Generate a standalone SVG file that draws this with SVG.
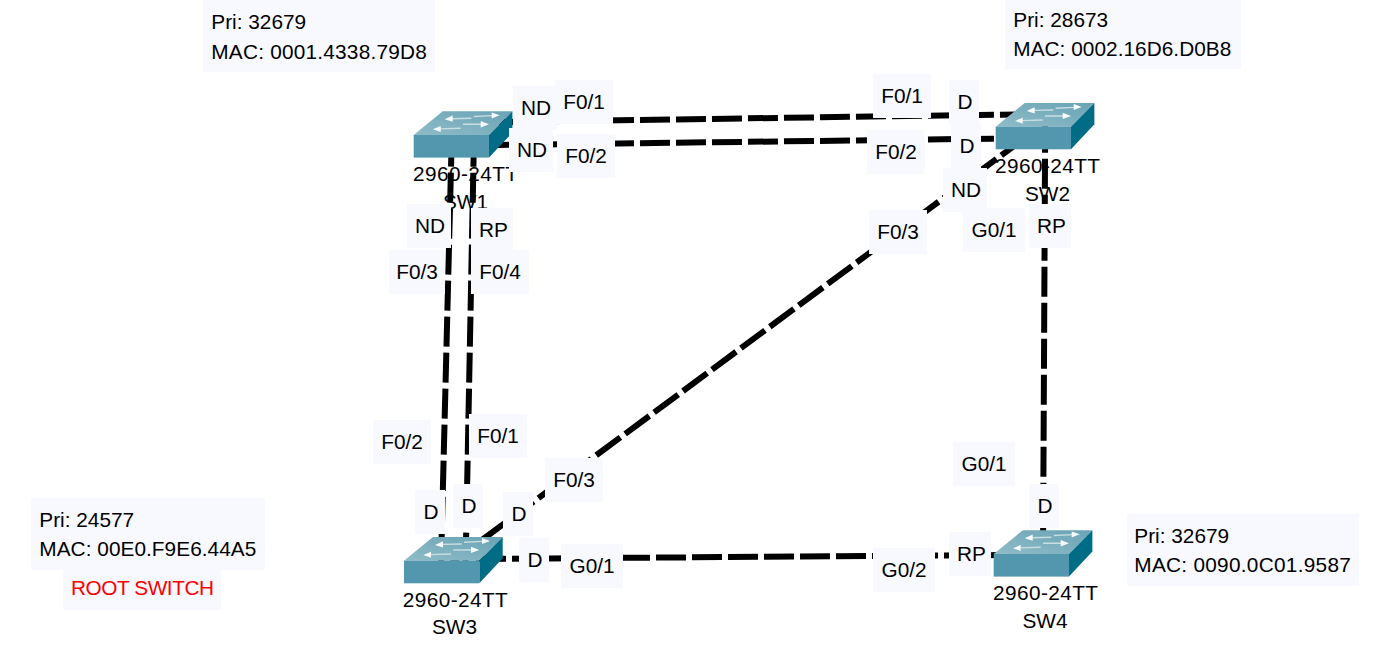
<svg xmlns="http://www.w3.org/2000/svg" width="1391" height="657" viewBox="0 0 1391 657">
<style>
text{font-family:"Liberation Sans",Arial,sans-serif;font-size:20.8px;fill:#000}
.l{text-anchor:middle}
.bg{fill:#f8f9ff}
.link{fill:none;stroke:#000;stroke-width:6;stroke-dasharray:30 6}
.root{fill:#ff0000}
</style>
<defs>
<linearGradient id="top" x1="0" y1="1" x2="1" y2="0"><stop offset="0" stop-color="#8fbcc8"/><stop offset="1" stop-color="#6aa3b5"/></linearGradient>
<g id="sw">
<path d="M0 0L29 -23.7H98.7L75.3 0Z" fill="url(#top)"/>
<path d="M75.3 0L98.7 -23.7V-2.4L75.3 22.6Z" fill="#006c85"/>
<rect x="0" y="0" width="75.3" height="22.6" fill="#5297ae"/>
<path d="M38 -17L57.7 -17.4V-16L38 -15.6Z M60 -19.2L79 -20V-18.8L60 -17.8Z M26 -6.8L47 -7.4V-6L26 -5.4Z M49.3 -11.4L68 -11.4V-10L49.3 -10Z" fill="#c9dde2"/>
<path d="M31 -15.7L39 -19.4V-13.2Z M86 -19.7L78 -22.6V-16.6Z M19.3 -5.7L27 -9V-3Z M75.3 -10.7L67 -14V-7.6Z" fill="#f7fafb"/>
</g>
</defs>
<rect width="1391" height="657" fill="#fff"/>
<g id="connectors">
<path class="link" d="M460 122.6L1030 114.2"/>
<path class="link" d="M460 145.5L1030 138.2"/>
<path class="link" d="M451.8 136.7L441 562.7"/>
<path class="link" d="M474 136.7L465.6 562.7"/>
<path class="link" d="M451.6 562.4L1029.6 134.4"/>
<path class="link" d="M1045.2 122.7L1043 560"/>
<path class="link" d="M476 558.9L1016 555"/>
</g>
<g id="SW1"><use href="#sw" x="413.7" y="135"/><text class="l" x="465.5" y="181" textLength="105">2960-24TT</text><text class="l" x="465.5" y="209">SW1</text></g>
<g id="SW2"><use href="#sw" x="995.7" y="126.7"/><text class="l" x="1047.5" y="172.7" textLength="105">2960-24TT</text><text class="l" x="1047.5" y="200.5">SW2</text></g>
<g id="SW3"><use href="#sw" x="404" y="560.7"/><text class="l" x="455.3" y="606.7" textLength="105">2960-24TT</text><text class="l" x="454.5" y="634.3">SW3</text></g>
<g id="SW4"><use href="#sw" x="993.7" y="554"/><text class="l" x="1045.5" y="600.4" textLength="105">2960-24TT</text><text class="l" x="1045" y="627.7">SW4</text></g>
<g id="port-labels">
<rect class="bg" x="513" y="86" width="44" height="44"/><text class="l" x="536" y="115.3">ND</text>
<rect class="bg" x="555" y="80" width="58" height="44"/><text class="l" x="584" y="109.3">F0/1</text>
<rect class="bg" x="509" y="128" width="44" height="44"/><text class="l" x="532" y="157.3">ND</text>
<rect class="bg" x="557" y="134" width="58" height="44"/><text class="l" x="586" y="163.3">F0/2</text>
<rect class="bg" x="407" y="204" width="44" height="44"/><text class="l" x="430" y="233.3">ND</text>
<rect class="bg" x="471" y="208" width="42" height="42"/><text class="l" x="493.5" y="237.3">RP</text>
<rect class="bg" x="389" y="250" width="56" height="44"/><text class="l" x="417" y="279.3">F0/3</text>
<rect class="bg" x="471" y="250" width="58" height="44"/><text class="l" x="500" y="279.3">F0/4</text>
<rect class="bg" x="873" y="74" width="58" height="44"/><text class="l" x="902" y="103.3">F0/1</text>
<rect class="bg" x="949" y="80" width="30" height="44"/><text class="l" x="965" y="109.3">D</text>
<rect class="bg" x="867" y="130" width="58" height="44"/><text class="l" x="896" y="159.3">F0/2</text>
<rect class="bg" x="951" y="124" width="30" height="44"/><text class="l" x="967" y="153.3">D</text>
<rect class="bg" x="943" y="168" width="44" height="44"/><text class="l" x="966" y="197.3">ND</text>
<rect class="bg" x="963" y="208" width="62" height="44"/><text class="l" x="994" y="237.3">G0/1</text>
<rect class="bg" x="1029" y="204" width="42" height="44"/><text class="l" x="1051.5" y="233.3">RP</text>
<rect class="bg" x="869" y="210" width="58" height="44"/><text class="l" x="898" y="239.3">F0/3</text>
<rect class="bg" x="373" y="420" width="58" height="44"/><text class="l" x="402" y="449.3">F0/2</text>
<rect class="bg" x="469" y="414" width="58" height="44"/><text class="l" x="498" y="443.3">F0/1</text>
<rect class="bg" x="415" y="490" width="30" height="44"/><text class="l" x="431" y="519.3">D</text>
<rect class="bg" x="453" y="484" width="30" height="44"/><text class="l" x="469" y="513.3">D</text>
<rect class="bg" x="503" y="492" width="30" height="44"/><text class="l" x="519" y="521.3">D</text>
<rect class="bg" x="545" y="458" width="58" height="44"/><text class="l" x="574" y="487.3">F0/3</text>
<rect class="bg" x="519" y="538" width="30" height="44"/><text class="l" x="535" y="567.3">D</text>
<rect class="bg" x="561" y="544" width="62" height="44"/><text class="l" x="592" y="573.3">G0/1</text>
<rect class="bg" x="953" y="442" width="62" height="44"/><text class="l" x="984" y="471.3">G0/1</text>
<rect class="bg" x="1029" y="484" width="30" height="44"/><text class="l" x="1045" y="513.3">D</text>
<rect class="bg" x="873" y="548" width="62" height="44"/><text class="l" x="904" y="577.3">G0/2</text>
<rect class="bg" x="949" y="532" width="42" height="44"/><text class="l" x="971.5" y="561.3">RP</text>
</g>
<g id="info">
<rect class="bg" x="203" y="0" width="232" height="72"/><text x="211.3" y="29">Pri: 32679</text><text x="211.3" y="59" textLength="215.5">MAC: 0001.4338.79D8</text>
<rect class="bg" x="1005" y="0" width="236" height="69"/><text x="1013.3" y="27">Pri: 28673</text><text x="1013.3" y="56" textLength="218">MAC: 0002.16D6.D0B8</text>
<rect class="bg" x="31" y="498" width="234" height="72"/><text x="39.3" y="527">Pri: 24577</text><text x="39.3" y="556" textLength="217">MAC: 00E0.F9E6.44A5</text>
<rect class="bg" x="63" y="570" width="158" height="40"/><text class="root" x="71" y="595.3" textLength="143">ROOT SWITCH</text>
<rect class="bg" x="1127" y="514" width="232" height="72"/><text x="1134.3" y="543.3">Pri: 32679</text><text x="1134.3" y="572" textLength="216.5">MAC: 0090.0C01.9587</text>
</g>
</svg>
